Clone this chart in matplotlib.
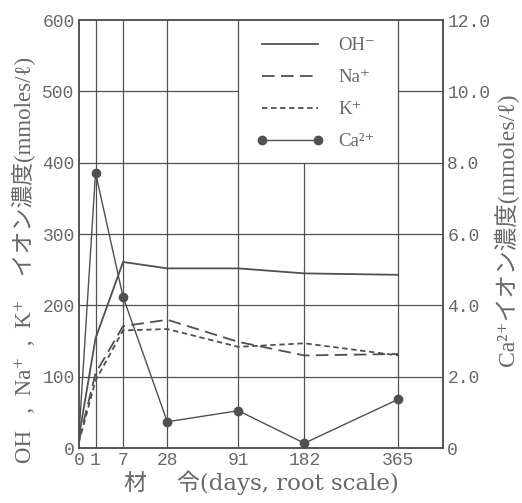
import numpy as np
import matplotlib
matplotlib.use("Agg")
import matplotlib.pyplot as plt

# ages (days) and concentrations
days = [0, 1, 7, 28, 91, 182, 365]
oh = [15, 154, 261, 252, 252, 245, 243]
na = [10, 105, 171, 180, 149, 130, 132]
k = [8, 95, 165, 167, 142, 147, 130]
ca = [0.3, 7.72, 4.24, 0.74, 1.05, 0.14, 1.37]

xticks = [0, 1, 7, 28, 91, 182, 365]
left_ticks = [0, 100, 200, 300, 400, 500, 600]
right_ticks = [0, 2, 4, 6, 8, 10, 12]
right_labels = ['0', '2.0', '4.0', '6.0', '8.0', '10.0', '12.0']

gray = '#505050'
tgray = '#686868'
serif = ['Liberation Serif', 'DejaVu Serif', 'Noto Sans CJK JP']
wide = ['DejaVu Serif', 'Noto Sans CJK JP']
mono = ['Liberation Mono', 'DejaVu Sans Mono']
plt.rcParams['font.family'] = serif

fig = plt.figure(figsize=(5.22, 5.03), dpi=100)
ax = fig.add_axes([0.151, 0.109, 0.698, 0.851])
ax.set_xscale('function', functions=(lambda v: np.sqrt(np.clip(v, 0, None)), np.square))
ax.set_xlim(0, 475)
ax.set_ylim(0, 600)

# grid (legend cell left blank like the original)
for d in [1, 7, 28, 91, 365]:
    ax.axvline(d, color=gray, lw=0.9, zorder=0.5)
ax.vlines(182, 0, 400, color=gray, lw=0.9, zorder=0.5)
for v in [100, 200, 300, 400]:
    ax.axhline(v, color=gray, lw=0.9, zorder=0.5)
ax.hlines([500, 500], [0, 365], [91, 475], color=gray, lw=0.9, zorder=0.5)

l1, = ax.plot(days, oh, color=gray, lw=1.3, ls='-', label='OH⁻')
l2, = ax.plot(days, na, color=gray, lw=1.3, ls=(0, (7, 3.5)), label='Na⁺')
l3, = ax.plot(days, k, color=gray, lw=1.3, ls=(0, (3, 2)), label='K⁺')

ax2 = ax.twinx()
ax2.set_ylim(0, 12)
l4, = ax2.plot(days, ca, color=gray, lw=1.0, marker='o', ms=6,
               markevery=[1, 2, 3, 4, 5, 6], label='Ca²⁺')

ax.set_xticks(xticks)
ax.set_xticklabels([str(t) for t in xticks])
ax.set_yticks(left_ticks)
ax2.set_yticks(right_ticks)
ax2.set_yticklabels(right_labels)
for a in (ax, ax2):
    a.tick_params(length=0, labelsize=13, labelcolor=tgray, pad=3)
    for lab in a.get_xticklabels() + a.get_yticklabels():
        lab.set_family(mono)
    for s in a.spines.values():
        s.set_color(gray)
        s.set_linewidth(1.1)

ax.set_xlabel('材　 令(days, root scale)', fontsize=16.5, color=tgray,
              family=wide, labelpad=1)
ax.set_ylabel('OH   ,  Na⁺  ,  K⁺    イオン濃度(mmoles/ℓ)', fontsize=16.5, color=tgray,
              family=serif)
ax.yaxis.set_label_coords(-0.118, 0.44)
ax2.set_ylabel('Ca²⁺イオン濃度(mmoles/ℓ)', fontsize=17, color=tgray,
               family=serif)
ax2.yaxis.set_label_coords(1.14, 0.51)

leg = ax2.legend(handles=[l1, l2, l3, l4], loc='upper left',
                 bbox_to_anchor=(0.44, 1.0), frameon=False, numpoints=2,
                 handlelength=3.6, labelspacing=0.8, fontsize=13.5,
                 handletextpad=0.8)
for t in leg.get_texts():
    t.set_color(tgray)

fig.savefig('out.png', dpi=100)
